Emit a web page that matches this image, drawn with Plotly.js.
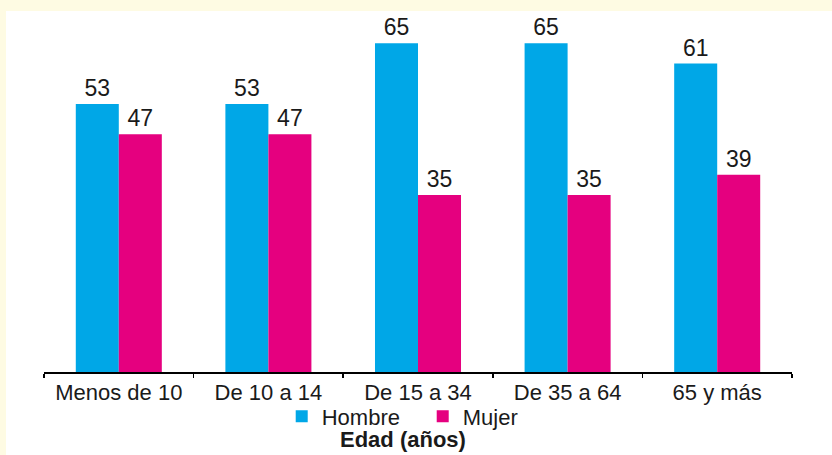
<!DOCTYPE html>
<html>
<head>
<meta charset="utf-8">
<script src="https://cdn.plot.ly/plotly-3.0.1.min.js"></script>
<style>html,body{margin:0;padding:0;background:#FEFBE3;}#chart{width:832px;height:455px;}</style>
</head>
<body>
<div id="chart"></div>
<script>
const categories = ["Menos de 10", "De 10 a 14", "De 15 a 34", "De 35 a 64", "65 y más"];
const hombre = [53, 53, 65, 65, 61];
const mujer = [47, 47, 35, 35, 39];
const seriesNames = ["Hombre", "Mujer"];
const xTitle = "Edad (años)";

const FONT = "'Liberation Sans', Arial, sans-serif";
const TXT = "#1a1a1a";

const traces = [
  {type: "bar", name: seriesNames[0], x: categories, y: hombre, marker: {color: "#00A7E7"},
   text: hombre.map(String), textposition: "outside", cliponaxis: false,
   textfont: {family: FONT, size: 23, color: TXT}},
  {type: "bar", name: seriesNames[1], x: categories, y: mujer, marker: {color: "#E5007F"},
   text: mujer.map(String), textposition: "outside", cliponaxis: false,
   textfont: {family: FONT, size: 23, color: TXT}}
];

const layout = {
  width: 832, height: 455,
  margin: {l: 44, r: 40, t: 18, b: 83},
  paper_bgcolor: "#FEFBE3",
  plot_bgcolor: "rgba(0,0,0,0)",
  barmode: "group",
  bargap: 0.425,
  bargroupgap: 0,
  font: {family: FONT, size: 22, color: TXT},
  showlegend: true,
  legend: {orientation: "h", x: 0.3178, xanchor: "left", y: -0.066, yanchor: "top",
           font: {family: FONT, size: 22, color: TXT}, bgcolor: "rgba(0,0,0,0)",
           entrywidth: 96, entrywidthmode: "pixels", tracegroupgap: 0},
  xaxis: {type: "category", showline: true, linecolor: "#000", linewidth: 1.5,
          ticks: "outside", tickson: "boundaries", ticklen: 4, tickcolor: "#000", tickwidth: 1.5,
          tickfont: {family: FONT, size: 22, color: TXT}, showgrid: false, zeroline: false},
  yaxis: {range: [0, 70], visible: false, showgrid: false, zeroline: false, fixedrange: true},
  shapes: [{type: "rect", xref: "paper", yref: "paper", x0: -0.0508, x1: 1.06, y0: -0.25, y1: 1.0198,
            fillcolor: "#ffffff", line: {width: 0}, layer: "below"}],
  annotations: [{text: "<b>" + xTitle + "</b>", xref: "paper", yref: "paper", x: 0.4806, y: -0.192,
                 xanchor: "center", yanchor: "middle", showarrow: false,
                 font: {family: FONT, size: 22, color: TXT}}]
};

Plotly.newPlot("chart", traces, layout, {displayModeBar: false, staticPlot: true});
</script>
</body>
</html>
